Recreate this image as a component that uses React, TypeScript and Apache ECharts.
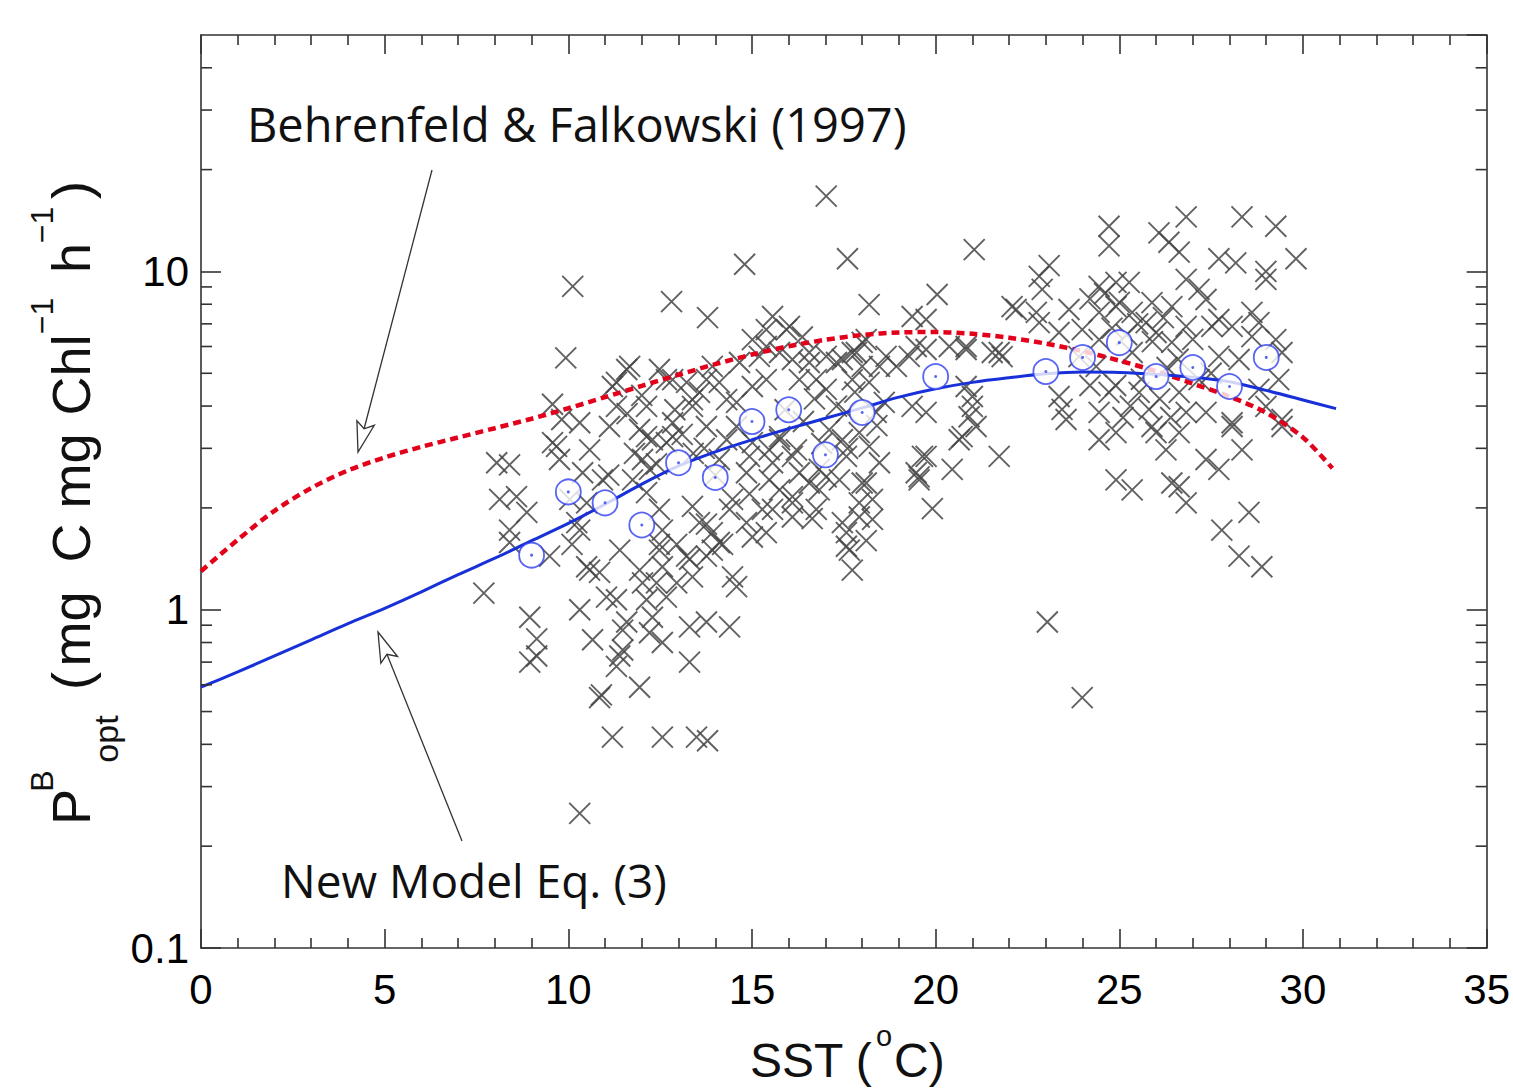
import React, { useEffect, useRef } from 'react';
import * as echarts from 'echarts';

// ---- axis ticks ----
const xTicks = [0, 5, 10, 15, 20, 25, 30, 35];
const yTickLabels = ['0.1', '1', '10'];
const yMinorTicks = [0.2, 0.3, 0.4, 0.5, 0.6, 0.7, 0.8, 0.9, 2, 3, 4, 5, 6, 7, 8, 9, 20, 30, 40];

// ---- Behrenfeld & Falkowski (1997) curve ----
const bfT = [0, 1, 2, 3, 4, 5, 6, 7, 8, 9, 10, 11, 12, 13, 14, 15, 16, 17, 18, 19, 20, 21, 22, 23, 24, 25, 26, 27, 28, 29, 30, 30.8];
const bfP = [1.30, 1.61, 1.96, 2.29, 2.58, 2.82, 3.03, 3.23, 3.44, 3.67, 3.94, 4.25, 4.59, 4.95, 5.32, 5.68, 6.01, 6.28, 6.49, 6.60, 6.62, 6.54, 6.37, 6.12, 5.81, 5.45, 5.07, 4.66, 4.27, 3.82, 3.23, 2.62];

// ---- New model Eq. (3) curve ----
const nmT = [0, 1, 2, 3, 4, 5, 6, 7, 8, 9, 10, 11, 12, 13, 14, 15, 16, 17, 18, 19, 20, 21, 22, 23, 24, 25, 26, 27, 28, 29, 30, 30.9];
const nmP = [0.59, 0.655, 0.73, 0.815, 0.91, 1.01, 1.13, 1.27, 1.42, 1.6, 1.8, 2.05, 2.35, 2.66, 2.93, 3.18, 3.43, 3.68, 3.95, 4.25, 4.5, 4.7, 4.85, 4.98, 5.04, 5.03, 4.97, 4.87, 4.72, 4.45, 4.17, 3.93];

// ---- binned means (open circles) ----
const binT = [9, 10, 11, 12, 13, 14, 15, 16, 17, 18, 20, 23, 24, 25, 26, 27, 28, 29];
const binP = [1.45, 2.23, 2.07, 1.78, 2.72, 2.46, 3.6, 3.9, 2.87, 3.83, 4.89, 5.06, 5.57, 6.16, 4.89, 5.2, 4.57, 5.57];

// ---- observations (crosses) ----
const obsCold: number[][] = [
  [7.7, 1.12], [8.05, 2.72], [8.4, 2.68], [8.13, 2.12], [8.59, 2.16], [8.87, 1.94], [8.4, 1.72], [8.4, 1.58], [9.49, 1.44],
  [8.95, 0.95], [9.14, 0.82], [9.14, 0.73], [8.95, 0.70],
  [10.12, 9.03], [9.93, 5.55], [9.57, 4.05], [9.82, 3.65], [10.31, 3.57], [9.68, 3.04], [9.76, 2.78], [10.58, 2.97],
  [10.39, 2.54], [10.04, 2.12], [10.5, 2.07], [10.23, 1.81], [10.93, 2.42], [10.1, 1.56], [10.5, 1.34], [10.85, 1.29],
  [11.04, 1.09], [10.31, 1.0], [10.66, 0.815], [11.2, 0.42], [10.31, 0.25], [10.85, 0.55], [10.9, 0.56], [9.57, 3.12],
  [10.58, 1.31], [10.31, 1.72],
];
const obsCool: number[][] = [
  [11.4, 0.73], [11.31, 0.68], [11.48, 0.76], [11.94, 0.59], [11.48, 0.87], [11.59, 0.92], [11.31, 1.07], [12.13, 1.07],
  [12.29, 0.95], [12.21, 0.855], [12.56, 0.80], [12.67, 1.09], [12.02, 1.2], [12.56, 1.34], [12.48, 1.56], [12.95, 1.56],
  [11.2, 4.57], [11.59, 5.13], [11.31, 3.99], [11.12, 3.48], [11.94, 3.41], [12.13, 3.99], [12.48, 5.13], [12.67, 4.79],
  [12.02, 2.78], [11.75, 2.42], [12.13, 2.22], [12.48, 1.98], [12.84, 3.25], [12.84, 3.57], [12.29, 3.18], [12.21, 2.6],
  [12.56, 1.72], [12.56, 0.42], [13.49, 0.42], [13.79, 0.41], [12.81, 8.14], [13.79, 7.3], [14.8, 10.5],
  [13.3, 0.89], [13.3, 0.70], [13.76, 0.92], [14.39, 0.89], [13.92, 1.5], [14.2, 1.56], [14.47, 1.25], [14.58, 1.17],
  [13.38, 1.25], [13.3, 1.41], [12.4, 1.2], [13.76, 1.44],
  [13.38, 3.99], [13.57, 4.39], [13.92, 5.24], [13.22, 4.7], [14.31, 4.18], [13.76, 3.48], [14.58, 3.48], [14.31, 3.18],
  [14.11, 2.78], [14.93, 2.84], [14.85, 2.54], [14.47, 2.12], [14.39, 1.98], [14.85, 1.81], [13.38, 2.02], [13.57, 1.81],
  [13.92, 1.69], [14.58, 4.1], [15.01, 4.57], [15.01, 6.29], [14.93, 2.2], [12.13, 3.25], [12.67, 3.12], [15.01, 3.12],
  [14.11, 1.58], [13.76, 1.79], [13.22, 1.44], [12.95, 1.2], [12.48, 1.5], [11.94, 1.31], [11.4, 1.5],
  [11.31, 4.7], [11.67, 5.24], [12.84, 4.79], [13.76, 4.79], [13.38, 4.18], [14.11, 4.7], [14.66, 5.38],
  [11.8, 2.9], [12.4, 2.7], [13.1, 3.3], [13.4, 2.9], [11.6, 3.8], [12.9, 3.9], [12.0, 4.3], [13.7, 3.0], [14.0, 2.5], [11.1, 2.5],
];
const obsMild: number[][] = [
  [15.2, 5.61], [15.39, 6.73], [15.94, 6.73], [16.37, 6.4], [16.56, 5.38], [17.02, 5.61], [17.3, 5.38], [17.73, 5.76],
  [18.11, 6.29], [18.0, 5.24], [18.65, 5.61], [19.28, 5.61], [19.74, 5.88], [20.37, 6.0], [20.83, 5.88], [21.54, 5.76],
  [21.0, 4.27], [20.91, 3.72], [20.72, 3.25], [20.45, 2.6], [19.74, 2.84], [19.55, 2.42], [21.81, 5.6],
  [15.56, 7.36], [16.02, 6.88], [15.39, 6.0], [15.75, 5.76], [16.1, 5.49], [16.56, 5.76], [16.75, 4.79], [17.02, 4.48],
  [16.29, 4.79], [15.39, 4.79], [17.46, 5.49], [17.84, 5.76], [18.0, 6.17], [17.73, 4.79], [18.19, 4.7], [18.47, 5.24],
  [17.57, 3.83], [18.38, 3.83], [17.92, 3.34], [17.46, 3.18], [18.19, 3.04], [18.47, 2.72], [16.21, 2.97], [15.75, 3.18],
  [15.47, 2.97], [16.29, 2.54], [17.57, 2.84], [19.47, 6.0], [18.93, 5.24], [19.36, 3.99], [19.74, 3.83], [20.83, 6.0],
  [20.83, 4.57], [21.0, 3.99], [21.1, 3.48], [20.64, 3.18], [21.73, 5.76], [21.73, 2.84], [19.64, 2.84], [19.47, 2.54],
  [17.02, 16.7], [17.6, 10.9], [21.05, 11.6], [18.19, 7.98], [20.04, 8.55], [19.36, 7.36], [19.74, 7.21], [22.19, 7.72],
  [15.47, 2.42], [15.75, 2.26], [16.1, 2.16], [16.56, 2.37], [16.83, 2.26], [17.02, 2.47], [15.28, 1.98], [15.39, 1.69],
  [16.1, 1.88], [16.64, 1.86], [16.75, 1.98], [17.46, 1.81], [17.57, 1.54], [17.73, 1.31], [18.11, 1.6], [18.28, 1.85],
  [17.92, 2.07], [18.0, 2.37], [19.55, 2.47], [19.91, 1.99],
  [15.75, 3.25], [15.56, 2.72], [16.1, 2.84], [16.83, 2.6], [17.38, 2.42], [18.11, 2.37], [18.28, 2.12], [17.92, 1.88],
  [17.57, 1.69], [17.65, 1.5], [16.1, 2.07], [15.56, 1.98], [15.01, 1.64],
  [16.7, 4.2], [17.3, 4.0], [17.8, 4.4], [16.4, 3.6], [17.1, 3.4], [18.6, 4.1], [16.9, 3.1], [15.9, 3.9], [18.4, 3.5], [17.6, 3.0],
];
const obsWarm: number[][] = [
  [24.72, 13.6], [24.72, 11.9], [26.82, 14.5], [28.34, 14.5], [29.26, 13.6], [29.81, 10.9], [26.08, 13.0], [26.35, 12.2],
  [26.63, 11.4], [27.71, 10.9], [28.17, 10.6], [28.99, 10.0], [28.99, 9.47], [23.09, 10.4], [22.82, 9.67], [22.9, 8.85],
  [22.08, 7.87], [22.74, 7.57], [23.63, 7.72], [22.82, 7.06], [23.36, 6.6], [24.45, 9.03], [24.91, 9.28], [25.27, 9.28],
  [24.45, 7.57], [24.91, 7.87], [25.35, 7.57], [25.89, 8.09], [25.73, 7.06], [26.0, 6.6], [26.43, 7.87], [26.82, 9.47],
  [27.17, 8.85], [27.36, 8.26], [27.71, 7.21], [27.52, 6.88], [26.82, 6.88], [26.43, 6.17], [28.07, 6.88], [28.61, 7.57],
  [28.8, 7.06], [28.61, 6.42], [29.26, 6.29], [29.43, 5.76], [24.45, 6.29], [23.99, 6.73], [24.37, 5.24], [24.72, 4.39],
  [24.45, 3.83], [23.36, 4.27], [23.44, 3.91], [23.55, 3.65], [25.54, 4.39], [25.81, 3.91], [25.89, 3.48], [26.63, 4.39],
  [26.82, 3.83], [27.36, 3.83], [28.07, 3.57], [28.8, 4.48], [28.99, 3.99], [29.43, 3.65], [29.34, 4.79], [27.17, 4.79],
  [25.35, 5.76], [27.71, 5.61], [28.26, 5.49],
  [24.45, 3.18], [24.91, 3.34], [26.0, 3.34], [26.27, 2.97], [26.63, 3.34], [27.36, 2.78], [27.71, 2.6], [28.07, 3.48],
  [28.34, 2.97], [24.91, 2.42], [25.35, 2.26], [26.43, 2.37], [26.63, 2.31], [26.82, 2.07], [28.53, 1.94], [27.79, 1.72],
  [28.26, 1.44], [28.88, 1.34], [23.04, 0.92], [23.99, 0.55], [29.43, 3.48],
  [24.2, 8.3], [24.6, 8.6], [25.0, 8.1], [25.5, 7.0], [25.9, 6.2], [24.8, 6.8], [25.2, 6.5], [26.2, 7.3], [26.6, 5.5],
  [25.6, 4.8], [24.9, 4.6], [26.1, 4.2], [25.3, 4.0], [26.4, 3.7], [25.1, 3.7], [24.2, 4.6], [23.9, 5.6], [27.0, 6.3],
  [27.5, 5.0], [26.3, 5.2],
];

const SANS = '"Liberation Sans", Arial, Helvetica, sans-serif';
const NOTE = '"Open Sans", "Noto Sans", sans-serif';
const AX = '#333333';

export default function App() {
  const ref = useRef<HTMLDivElement>(null);

  useEffect(() => {
    const chart = echarts.init(ref.current as HTMLDivElement, null, { renderer: 'svg' });

    const tickStyle = { color: AX, width: 1.6 };
    const xBase: any = {
      type: 'value',
      min: xTicks[0],
      max: xTicks[xTicks.length - 1],
      interval: 5,
      axisLine: { show: true, onZero: false, lineStyle: tickStyle },
      axisTick: { show: true, inside: true, length: 19, lineStyle: tickStyle },
      minorTick: { show: true, splitNumber: 5, length: 10, lineStyle: tickStyle },
      splitLine: { show: false },
      minorSplitLine: { show: false },
    };
    const yBase: any = {
      type: 'log',
      logBase: 10,
      min: 0.1,
      max: 50,
      axisLine: { show: true, onZero: false, lineStyle: tickStyle },
      axisTick: { show: true, inside: true, length: 20, lineStyle: tickStyle },
      minorTick: { show: false },
      splitLine: { show: false },
    };

    const crossStyle = {
      color: 'rgba(0,0,0,0)',
      borderColor: '#454545',
      borderWidth: 1.9,
      opacity: 0.85,
    };
    const crossSeries = [obsCold, obsCool, obsMild, obsWarm].map((d) => ({
      type: 'scatter',
      data: d,
      symbol: 'path://M0,0L20,20M20,0L0,20',
      symbolSize: 21,
      itemStyle: crossStyle,
      z: 2,
      silent: true,
    }));

    chart.setOption({
      animation: false,
      backgroundColor: '#ffffff',
      grid: { left: 201, top: 35, width: 1287, height: 913, containLabel: false },
      xAxis: [
        {
          ...xBase,
          position: 'bottom',
          axisLabel: {
            show: true,
            fontSize: 42,
            fontFamily: SANS,
            color: '#000',
            margin: 20,
            formatter: (v: number) => String(v),
          },
        },
        { ...xBase, position: 'top', axisLabel: { show: false } },
      ],
      yAxis: [
        {
          ...yBase,
          position: 'left',
          axisLabel: {
            show: true,
            fontSize: 42,
            fontFamily: SANS,
            color: '#000',
            margin: 12,
            showMaxLabel: false,
            formatter: (v: number) => {
              const s = v < 1 ? v.toFixed(1) : String(Math.round(v));
              return yTickLabels.indexOf(s) >= 0 ? s : '';
            },
          },
        },
        { ...yBase, position: 'right', axisLabel: { show: false } },
      ],
      series: [
        ...crossSeries,
        {
          type: 'line',
          data: bfT.map((t, i) => [t, bfP[i]]),
          smooth: 0.3,
          showSymbol: false,
          lineStyle: { color: '#e3001a', width: 4.5, type: [8, 5] },
          z: 3,
          silent: true,
        },
        {
          type: 'line',
          data: nmT.map((t, i) => [t, nmP[i]]),
          smooth: 0.3,
          showSymbol: false,
          lineStyle: { color: '#1830d8', width: 3 },
          z: 4,
          silent: true,
        },
        {
          type: 'scatter',
          data: binT.map((t, i) => [t, binP[i]]),
          symbol: 'circle',
          symbolSize: 25,
          itemStyle: { color: '#ffffff', borderColor: '#2f3ff0', borderWidth: 1.8 },
          z: 5,
          silent: true,
        },
        {
          type: 'scatter',
          data: binT.map((t, i) => [t, binP[i]]),
          symbol: 'circle',
          symbolSize: 3,
          itemStyle: { color: '#2f3ff0' },
          z: 6,
          silent: true,
        },
      ],
    });

    // minor ticks of the log axis (at 2..9 of every decade), placed through the axis scale
    const xl = chart.convertToPixel({ xAxisIndex: 0 }, xTicks[0]) as number;
    const xr = chart.convertToPixel({ xAxisIndex: 0 }, xTicks[xTicks.length - 1]) as number;
    const minorLines: any[] = [];
    yMinorTicks.forEach((v) => {
      const py = chart.convertToPixel({ yAxisIndex: 0 }, v) as number;
      minorLines.push({
        type: 'line',
        shape: { x1: xl, y1: py, x2: xl + 11, y2: py },
        style: { stroke: AX, lineWidth: 1.6 },
        z: 50,
        silent: true,
      });
      minorLines.push({
        type: 'line',
        shape: { x1: xr - 11, y1: py, x2: xr, y2: py },
        style: { stroke: AX, lineWidth: 1.6 },
        z: 50,
        silent: true,
      });
    });

    const txt = (text: string, x: number, y: number, size: number, opts: any = {}) => ({
      type: 'text',
      x,
      y,
      rotation: opts.rotation || 0,
      z: 100,
      silent: true,
      style: {
        text,
        fill: '#111',
        fontSize: size,
        fontFamily: opts.family || SANS,
        align: opts.align || 'center',
        verticalAlign: 'middle',
      },
    });

    const R = Math.PI / 2;
    const yTitle = [
      txt('P', 71, 807, 54, { rotation: R }),
      txt('B', 42, 781, 32, { rotation: R }),
      txt('opt', 106, 739, 34, { rotation: R }),
      txt('(', 71, 681, 54, { rotation: R }),
      txt('mg', 71, 629, 54, { rotation: R }),
      txt('C', 71, 543, 54, { rotation: R }),
      txt('mg', 71, 471, 54, { rotation: R }),
      txt('Chl', 71, 375, 54, { rotation: R }),
      txt('\u22121', 42, 316, 32, { rotation: R }),
      txt('h', 71, 258, 54, { rotation: R }),
      txt('\u22121', 42, 225, 32, { rotation: R }),
      txt(')', 71, 190, 54, { rotation: R }),
    ];

    const xTitle = [
      txt('SST (', 750, 1060, 48, { align: 'left' }),
      txt('o', 876, 1036, 29, { align: 'left' }),
      txt('C)', 894, 1060, 48, { align: 'left' }),
    ];

    const notes = [
      txt('Behrenfeld & Falkowski (1997)', 247, 124, 47, { align: 'left', family: NOTE }),
      txt('New Model Eq. (3)', 281, 880, 46, { align: 'left', family: NOTE }),
    ];

    const arrow = (sx: number, sy: number, tx: number, ty: number) => {
      const dx = tx - sx;
      const dy = ty - sy;
      const len = Math.sqrt(dx * dx + dy * dy);
      const ux = dx / len;
      const uy = dy / len;
      const hl = 30;
      const hw = 9;
      const bx = tx - hl * ux;
      const by = ty - hl * uy;
      const nx = -uy;
      const ny = ux;
      return [
        {
          type: 'line',
          shape: { x1: sx, y1: sy, x2: bx + 6 * ux, y2: by + 6 * uy },
          style: { stroke: '#333', lineWidth: 1.3 },
          z: 90,
          silent: true,
        },
        {
          type: 'polygon',
          shape: {
            points: [
              [tx, ty],
              [bx + hw * nx, by + hw * ny],
              [bx + 6 * ux, by + 6 * uy],
              [bx - hw * nx, by - hw * ny],
            ],
          },
          style: { fill: '#ffffff', stroke: '#333', lineWidth: 1.3 },
          z: 91,
          silent: true,
        },
      ];
    };

    chart.setOption({
      graphic: [
        ...minorLines,
        ...yTitle,
        ...xTitle,
        ...notes,
        ...arrow(432, 170, 358, 452),
        ...arrow(462, 841, 378, 632),
      ],
    });

    return () => {
      chart.dispose();
    };
  }, []);

  return (
    <div
      ref={ref}
      style={{ position: 'fixed', left: 0, top: 0, width: 1513, height: 1089, background: '#ffffff' }}
    />
  );
}
